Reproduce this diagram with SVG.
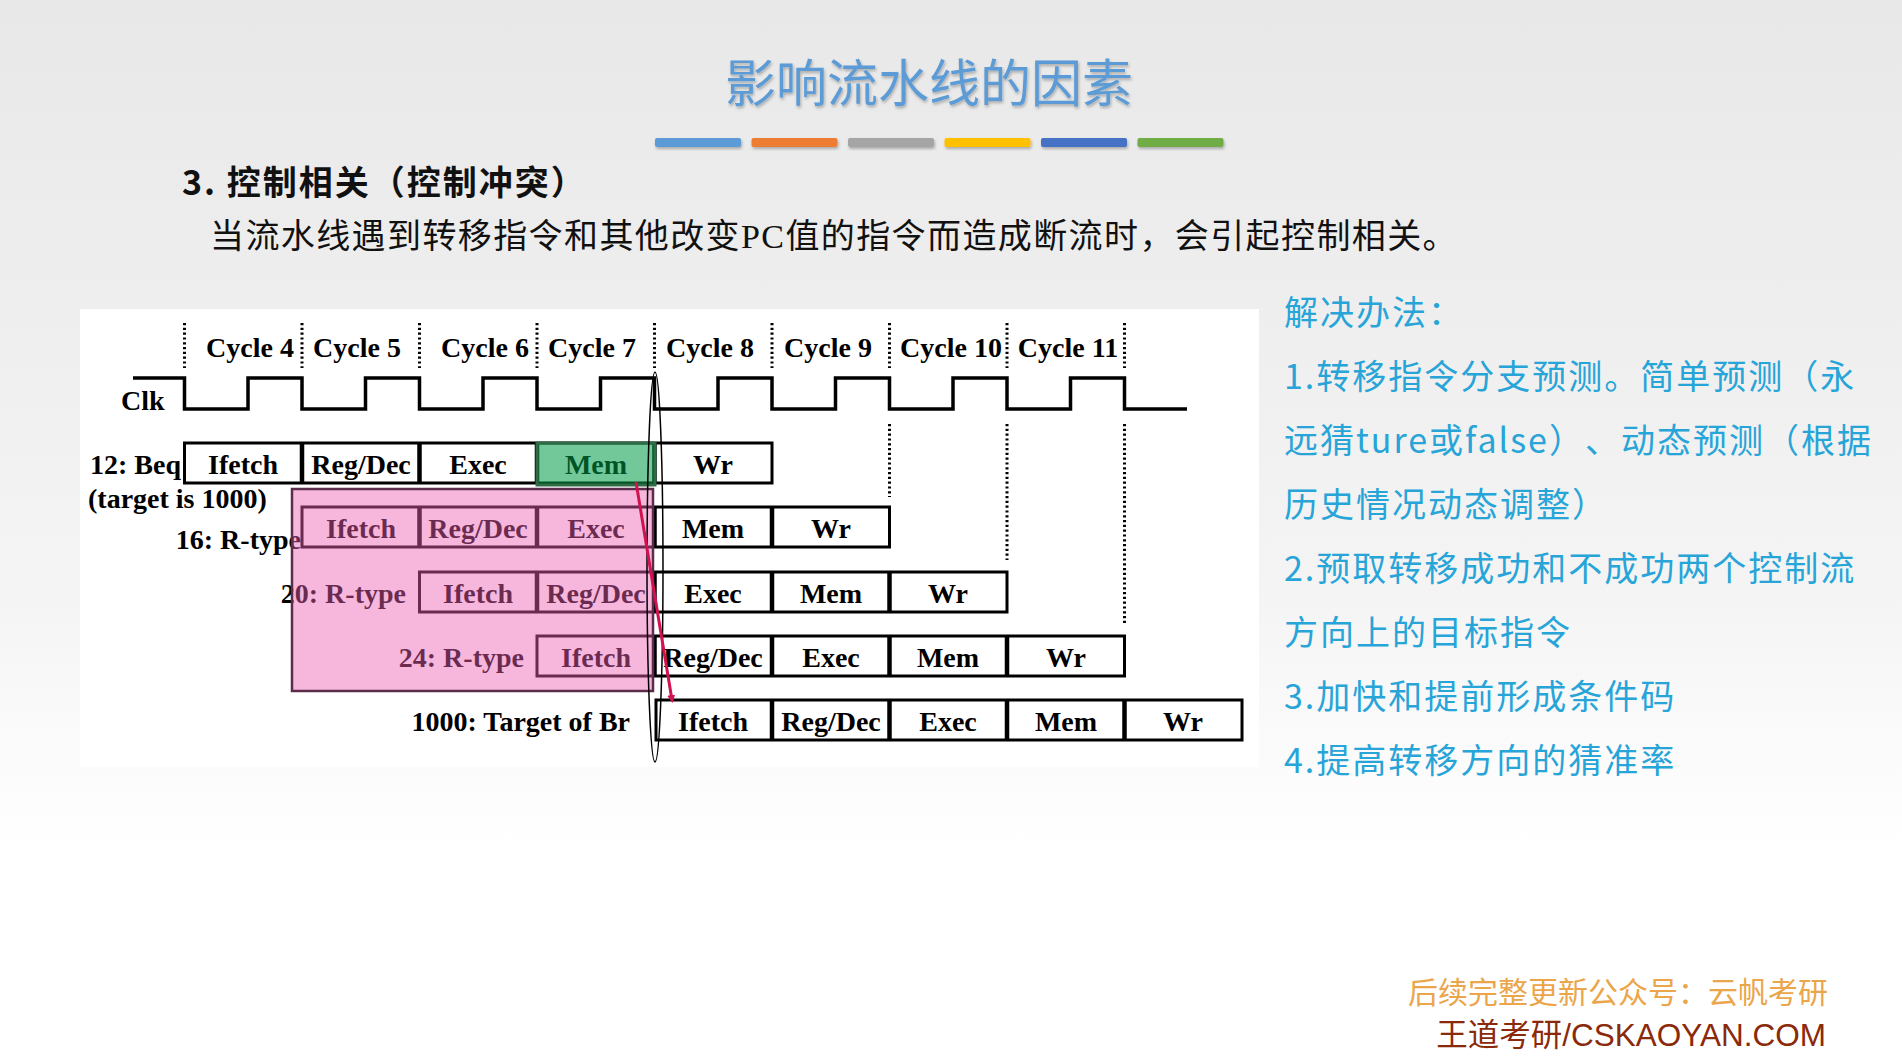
<svg xmlns="http://www.w3.org/2000/svg" width="1902" height="1062" viewBox="0 0 1902 1062">
<defs>
<linearGradient id="bg" x1="0" y1="0" x2="0" y2="1">
<stop offset="0" stop-color="#e8e8e8"/>
<stop offset="0.55" stop-color="#f4f4f4"/>
<stop offset="0.8" stop-color="#ffffff"/>
<stop offset="1" stop-color="#ffffff"/>
</linearGradient>
<filter id="sh" x="-10%" y="-30%" width="120%" height="170%">
<feDropShadow dx="1" dy="2" stdDeviation="1.5" flood-color="#000" flood-opacity="0.28"/>
</filter>
<marker id="ah" markerWidth="8" markerHeight="8" refX="5" refY="4" orient="auto" markerUnits="userSpaceOnUse">
<path d="M0,0 L8,4 L0,8 Z" fill="#d0124e"/>
</marker>
<style>
text{text-spacing-trim:space-all}
.t{font-family:"Liberation Serif",serif;font-weight:bold;font-size:28px;fill:#000}
.c{text-anchor:middle}
.e{text-anchor:end}
.row{fill:none;stroke:#000;stroke-width:3}
.div{stroke:#000;stroke-width:4.5}
.dot{stroke:#000;stroke-width:3;stroke-dasharray:2.2 2.6;fill:none}
.cn{font-family:"Noto Sans CJK SC",sans-serif}
.rt{font-family:"Noto Sans CJK SC",sans-serif;font-size:34px;fill:#27a4d8;letter-spacing:2px}
</style>
</defs>
<rect x="0" y="0" width="1902" height="1062" fill="url(#bg)"/>

<g id="title">
<text x="929" y="102" class="cn" font-size="51" fill="#5b9bd5" text-anchor="middle" filter="url(#sh)">影响流水线的因素</text>
</g>
<g id="colorbars" filter="url(#sh)">
<rect x="655" y="138" width="86" height="9" rx="2" fill="#5b9bd5"/>
<rect x="751.5" y="138" width="86" height="9" rx="2" fill="#ed7d31"/>
<rect x="848" y="138" width="86" height="9" rx="2" fill="#a5a5a5"/>
<rect x="944.5" y="138" width="86" height="9" rx="2" fill="#ffc000"/>
<rect x="1041" y="138" width="86" height="9" rx="2" fill="#4472c4"/>
<rect x="1137.5" y="138" width="86" height="9" rx="2" fill="#70ad47"/>
</g>

<g id="heading">
<text x="182" y="195" class="cn" font-size="34" font-weight="bold" fill="#111" letter-spacing="2">3. 控制相关（控制冲突）</text>
<text x="210" y="248" font-family="Liberation Serif,Noto Sans CJK SC,serif" font-size="34" fill="#111" letter-spacing="1.4">当流水线遇到转移指令和其他改变PC值的指令而造成断流时，会引起控制相关。</text>
</g>

<g id="panel">
<rect x="80" y="309" width="1179" height="458" fill="#ffffff"/>
</g>

<g id="timing">
<g id="gridlines">
<path class="dot" d="M184.5,323V368 M302,323V368 M419.5,323V368 M537,323V368 M654.5,323V368 M772,323V368 M889.5,323V368 M1007,323V368 M1124.5,323V368"/>
<path class="dot" d="M889.5,424V497 M1007,424V560 M1124.5,424V625"/>
</g>
<g id="cycles" class="t c">
<text x="250" y="357">Cycle 4</text>
<text x="357" y="357">Cycle 5</text>
<text x="485" y="357">Cycle 6</text>
<text x="592" y="357">Cycle 7</text>
<text x="710" y="357">Cycle 8</text>
<text x="828" y="357">Cycle 9</text>
<text x="951" y="357">Cycle 10</text>
<text x="1068" y="357">Cycle 11</text>
</g>
<g id="clk">
<text class="t" x="121" y="410">Clk</text>
<path d="M133,378H184.5V409H248V378H302V409H365.5V378H419.5V409H483V378H537V409H600.5V378H654.5V409H718V378H772V409H835.5V378H889.5V409H953V378H1007V409H1070.5V378H1124.5V409H1187" fill="none" stroke="#000" stroke-width="3.5"/>
</g>
</g>

<g id="instr-12">
<text class="t e" x="181" y="474">12: Beq</text>
<text class="t" x="88" y="508">(target is 1000)</text>
<rect class="row" x="184.5" y="443" width="587.5" height="40"/>
<path class="div" d="M302,443V483 M419.5,443V483 M537,443V483 M654.5,443V483"/>
<g class="t c">
<text x="243" y="474">Ifetch</text><text x="361" y="474">Reg/Dec</text><text x="478" y="474">Exec</text><text x="596" y="474">Mem</text><text x="713" y="474">Wr</text>
</g>
</g>

<g id="instr-16">
<text class="t e" x="301" y="549">16: R-type</text>
<rect class="row" x="302" y="507" width="587.5" height="40"/>
<path class="div" d="M419.5,507V547 M537,507V547 M654.5,507V547 M772,507V547"/>
<g class="t c">
<text x="361" y="538">Ifetch</text><text x="478" y="538">Reg/Dec</text><text x="596" y="538">Exec</text><text x="713" y="538">Mem</text><text x="831" y="538">Wr</text>
</g>
</g>

<g id="instr-20">
<text class="t e" x="406" y="603">20: R-type</text>
<rect class="row" x="419.5" y="572" width="587.5" height="40"/>
<path class="div" d="M537,572V612 M654.5,572V612 M772,572V612 M889.5,572V612"/>
<g class="t c">
<text x="478" y="603">Ifetch</text><text x="596" y="603">Reg/Dec</text><text x="713" y="603">Exec</text><text x="831" y="603">Mem</text><text x="948" y="603">Wr</text>
</g>
</g>

<g id="instr-24">
<text class="t e" x="524" y="667">24: R-type</text>
<rect class="row" x="537" y="636" width="587.5" height="40"/>
<path class="div" d="M654.5,636V676 M772,636V676 M889.5,636V676 M1007,636V676"/>
<g class="t c">
<text x="596" y="667">Ifetch</text><text x="713" y="667">Reg/Dec</text><text x="831" y="667">Exec</text><text x="948" y="667">Mem</text><text x="1066" y="667">Wr</text>
</g>
</g>

<g id="instr-1000">
<text class="t e" x="630" y="731">1000: Target of Br</text>
<rect class="row" x="656" y="700" width="586" height="40"/>
<path class="div" d="M772,700V740 M889.5,700V740 M1007,700V740 M1124.5,700V740"/>
<g class="t c">
<text x="713" y="731">Ifetch</text><text x="831" y="731">Reg/Dec</text><text x="948" y="731">Exec</text><text x="1066" y="731">Mem</text><text x="1183" y="731">Wr</text>
</g>
</g>

<g id="flushed-region">
<rect x="292" y="489" width="361" height="202" fill="#ee5fb2" fill-opacity="0.45" stroke="#5a2d4a" stroke-width="2.5"/>
</g>
<g id="branch-mem">
<rect x="537" y="443" width="118" height="42" fill="#009a45" fill-opacity="0.55" stroke="#2f6b45" stroke-width="3"/>
</g>
<g id="decision-point">
<ellipse cx="655" cy="567" rx="8" ry="195" fill="none" stroke="#000" stroke-width="1.5"/>
</g>

<g id="connectors">
<line x1="636" y1="482" x2="672" y2="700" stroke="#d0124e" stroke-width="3" marker-end="url(#ah)"/>
</g>

<g id="solutions">
<text class="rt" x="1284" y="325">解决办法：</text>
<text class="rt" x="1284" y="389">1.转移指令分支预测。简单预测（永</text>
<text class="rt" x="1284" y="453">远猜ture或false）、动态预测（根据</text>
<text class="rt" x="1284" y="517">历史情况动态调整）</text>
<text class="rt" x="1284" y="581">2.预取转移成功和不成功两个控制流</text>
<text class="rt" x="1284" y="645">方向上的目标指令</text>
<text class="rt" x="1284" y="709">3.加快和提前形成条件码</text>
<text class="rt" x="1284" y="773">4.提高转移方向的猜准率</text>
</g>

<g id="footer">
<text class="cn" x="1828" y="1003" font-size="30" fill="#eba54a" text-anchor="end">后续完整更新公众号：云帆考研</text>
<text x="1826" y="1046" font-family="Liberation Sans,Noto Sans CJK SC,sans-serif" font-size="31.5" fill="#8a2a0a" text-anchor="end">王道考研/CSKAOYAN.COM</text>
</g>
</svg>
